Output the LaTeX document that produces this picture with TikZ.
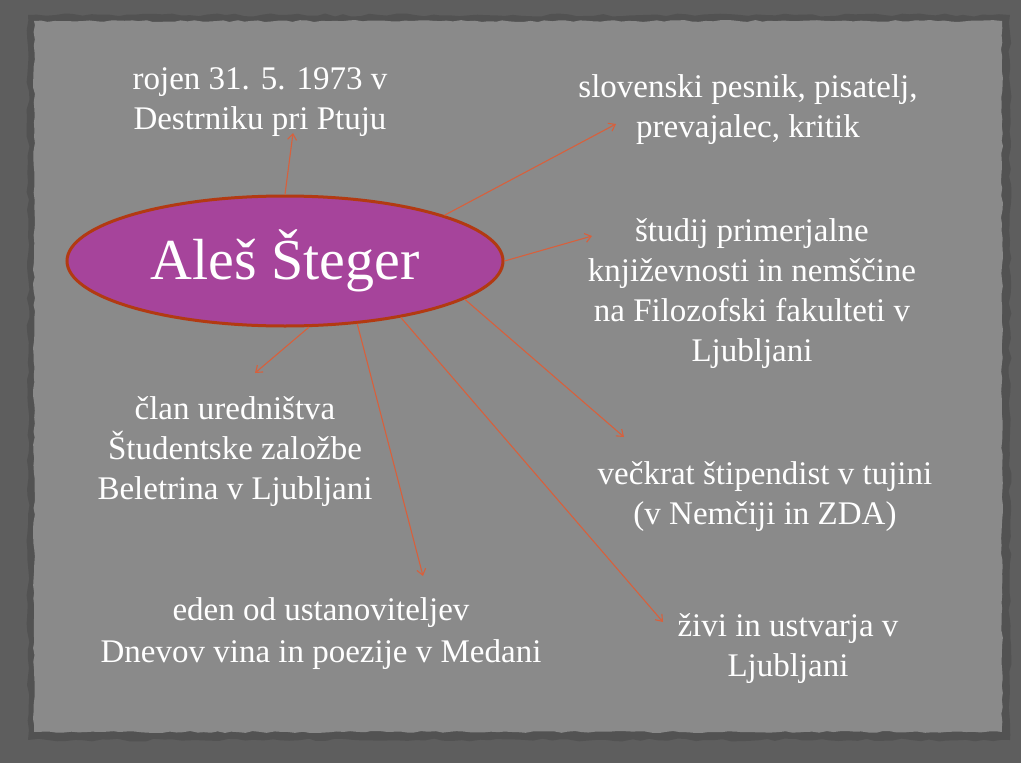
\documentclass[tikz,border=0pt]{standalone}
\usepackage{fontspec}
\setmainfont{Liberation Serif}
\usetikzlibrary{arrows.meta,shapes.geometric,decorations.pathmorphing}
\definecolor{slate}{HTML}{5E5E5E}
\definecolor{paper}{HTML}{8A8A8A}
\definecolor{plum}{HTML}{A6449B}
\definecolor{rust}{HTML}{B23A12}
\definecolor{ray}{HTML}{D8603C}

\begin{document}
\begin{tikzpicture}[x=1pt,y=-1pt,
  fact/.style={text=white,align=center,font=\fontsize{33}{40}\selectfont},
  spoke/.style={ray,line width=1.1pt,-{Straight Barb[length=6pt,width=9pt]}}]
  \useasboundingbox (0,0) rectangle (1021,763);
  % torn paper on a dark board
  \fill[slate] (0,0) rectangle (1021,763);
  \pgfmathsetseed{7}
  \fill[black,opacity=.12,decorate,decoration={random steps,segment length=9pt,amplitude=1.5pt}]
    (28,15) -- (1010,15) -- (1010,740) -- (28,740) -- cycle;
  \fill[paper,decorate,decoration={random steps,segment length=7pt,amplitude=1pt}]
    (34,21) -- (1002,21) -- (1002,732) -- (34,732) -- cycle;

  \node[ellipse,fill=plum,draw=rust,line width=3pt,minimum width=436pt,minimum height=130pt,
    inner sep=0pt,text=white,font=\fontsize{58}{60}\selectfont] (name) at (285,261) {Aleš Šteger};

  \node[fact] (born) at (260,102) {rojen 31. 5. 1973 v\\Destrniku pri Ptuju};
  \node[fact] (poet) at (748,110) {slovenski pesnik, pisatelj,\\prevajalec, kritik};
  \node[fact] (study) at (752,294) {študij primerjalne\\književnosti in nemščine\\na Filozofski fakulteti v\\Ljubljani};
  \node[fact] (grant) at (765,497) {večkrat štipendist v tujini\\(v Nemčiji in ZDA)};
  \node[fact] (lives) at (788,649) {živi in ustvarja v\\Ljubljani};
  \node[fact,font=\fontsize{33}{42}\selectfont] (wine) at (321,634) {eden od ustanoviteljev\\Dnevov vina in poezije v Medani};
  \node[fact] (editor) at (235,452) {član uredništva\\Študentske založbe\\Beletrina v Ljubljani};

  \coordinate (born-tip) at (293,133);
  \coordinate (poet-tip) at (616,124);
  \coordinate (study-tip) at (592,236);
  \coordinate (grant-tip) at (624,437);
  \coordinate (lives-tip) at (663,622);
  \coordinate (wine-tip) at (423,576);
  \coordinate (editor-tip) at (255,373);

  \draw[spoke] (name.90) -- (born-tip);
  \draw[spoke] (name.16.7) -- (poet-tip);
  \draw[spoke] (name.0) -- (study-tip);
  \draw[spoke] (name.-12.4) -- (grant-tip);
  \draw[spoke] (name.-26.4) -- (lives-tip);
  \draw[spoke] (name.-41.2) -- (wine-tip);
  \draw[spoke] (name.-70.8) -- (editor-tip);
\end{tikzpicture}
\end{document}
